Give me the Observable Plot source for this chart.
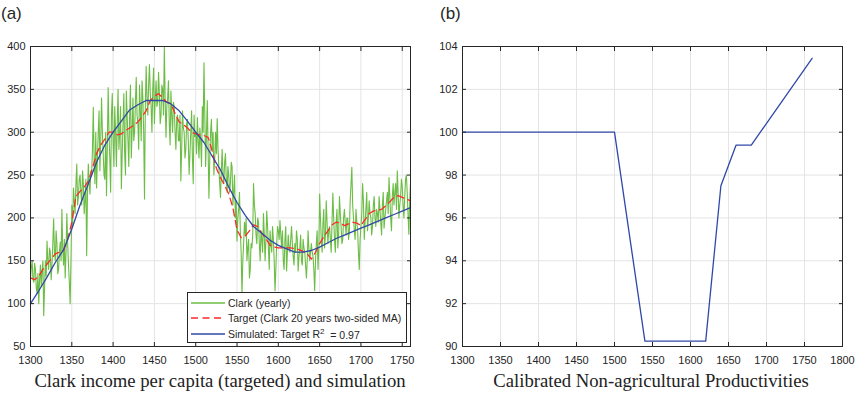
<!DOCTYPE html>
<html><head><meta charset="utf-8">
<script src="https://cdn.jsdelivr.net/npm/d3@7"></script>
<script src="https://cdn.jsdelivr.net/npm/@observablehq/plot@0.6"></script>
<style>
body{margin:0;background:#fff;}
#wrap{position:relative;width:855px;height:396px;overflow:hidden;font-family:"Liberation Sans",Arial,sans-serif;}
.panel{position:absolute;top:0;}
.lab{position:absolute;top:4px;font-size:17px;color:#262626;font-family:"Liberation Sans",Arial,sans-serif;}
.cap{position:absolute;top:370px;font-family:"Liberation Serif","Times New Roman",serif;font-size:18.7px;color:#222;white-space:nowrap;transform:translateX(-50%);}
</style></head><body><div id="wrap"></div>
<script>
// ---------- Data ----------
// Clark yearly income per capita, 1300..1760 (one value per year)
const clarkStartYear = 1300;
const clarkValues = [
  130,142,150,128,125,147,140,118,112,135,
  100,128,145,120,138,150,86,118,150,132,
  173,150,140,165,160,128,145,170,199,160,
  150,185,170,135,140,160,172,150,210,165,
  145,175,130,160,205,170,145,125,100,150,
  215,190,235,220,205,240,263,215,225,245,
  250,230,215,255,240,205,220,245,156,230,
  263,240,228,255,250,280,329,270,240,300,
  235,270,300,325,255,290,340,300,275,250,
  245,300,226,285,352,300,270,230,320,345,
  290,260,330,300,260,310,350,280,300,330,
  234,275,310,345,275,250,348,320,290,260,
  320,355,270,300,340,290,300,335,364,320,
  310,280,355,325,290,360,340,300,222,330,
  377,340,320,355,379,345,330,300,350,375,
  310,340,360,330,335,370,345,310,320,355,
  350,320,399,340,294,330,340,360,310,285,
  348,320,300,335,330,300,280,315,320,290,
  290,320,243,280,325,305,300,270,280,310,
  315,290,251,275,300,325,270,240,320,295,
  300,275,317,290,270,305,290,260,330,300,
  381,320,260,295,337,280,223,270,300,315,
  280,300,250,270,300,275,316,280,260,240,
  224,255,280,250,240,265,275,245,230,260,
  250,230,240,265,260,215,231,250,200,220,
  173,200,210,230,185,160,111,150,170,195,
  180,200,150,165,175,130,140,170,165,180,
  240,215,205,180,170,200,195,170,150,185,
  175,160,205,180,150,175,208,190,165,140,
  185,170,160,190,175,150,115,140,170,190,
  185,175,197,180,165,185,150,140,175,190,
  138,160,180,165,160,175,190,170,155,145,
  170,160,185,175,138,155,165,180,150,145,
  175,165,160,145,130,150,185,165,150,160,
  170,160,155,140,115,150,170,185,140,165,
  228,200,175,160,193,210,165,180,220,195,
  170,185,190,175,160,195,229,200,175,160,
  195,210,165,180,225,205,190,170,175,200,
  210,195,180,200,200,175,185,220,240,259,
  215,200,185,175,210,195,185,160,140,175,
  190,205,240,220,175,195,210,230,185,200,
  220,205,200,180,190,215,225,200,190,210,
  205,195,225,210,195,180,215,230,188,200,
  210,220,230,205,247,225,200,185,225,240,
  215,230,240,210,255,230,200,215,225,245,
  237,215,200,225,245,250,230,205,181,220,
  241
];
// Target: Clark 20 years two-sided MA (every 5 years)
const targetYears = [1300,1305,1310,1315,1320,1325,1330,1335,1340,1345,1350,1355,1360,1365,1370,1375,1380,1385,1390,1395,1400,1405,1410,1415,1420,1425,1430,1435,1440,1445,1450,1455,1460,1465,1470,1475,1480,1485,1490,1495,1500,1505,1510,1515,1520,1525,1530,1535,1540,1545,1550,1555,1560,1565,1570,1575,1580,1585,1590,1595,1600,1605,1610,1615,1620,1625,1630,1635,1640,1645,1650,1655,1660,1665,1670,1675,1680,1685,1690,1695,1700,1705,1710,1715,1720,1725,1730,1735,1740,1745,1750,1755,1760];
const targetValues = [130,128,132,140,146,152,158,160,162,175,195,225,231,236,243,258,275,285,292,300,300,297,298,302,305,308,312,318,325,337,342,345,340,335,333,322,312,309,305,300,298,297,296,294,278,258,247,238,228,212,186,177,179,185,192,190,182,176,168,166,165,165,165,165,164,163,161,158,152,160,170,178,185,192,195,194,191,193,195,194,191,198,205,208,209,210,214,219,224,226,224,222,220];
// Simulated (every 10 years)
const simYears = [1300,1310,1320,1330,1340,1350,1360,1370,1380,1390,1400,1410,1420,1430,1440,1450,1460,1470,1480,1490,1500,1510,1520,1530,1540,1550,1560,1570,1580,1590,1600,1610,1620,1630,1640,1650,1660,1670,1680,1690,1700,1710,1720,1730,1740,1750,1760];
const simValues = [100,115,131,148,163,187,215,240,265,285,300,313,326,332,337,337,337,333,325,313,300,288,272,256,236,218,203,190,182,174,168,164,160,160,162,166,171,176,180,184,188,192,196,200,204,208,212];
// Calibrated non-agricultural productivities
const prodYears = [1300,1500,1540,1620,1640,1660,1680,1760];
const prodValues = [100,100,90.25,90.25,97.5,99.4,99.4,103.45];

// Tick labels
const xTicksA = [1300,1350,1400,1450,1500,1550,1600,1650,1700,1750];
const yTicksA = [50,100,150,200,250,300,350,400];
const xTicksB = [1300,1350,1400,1450,1500,1550,1600,1650,1700,1750,1800];
const yTicksB = [90,92,94,96,98,100,102,104];

const legendLabels = ["Clark (yearly)", "Target (Clark 20 years two-sided MA)", "Simulated: Target R"];
const captionA = "Clark income per capita (targeted) and simulation";
const captionB = "Calibrated Non-agricultural Productivities";

// ---------- Build tables ----------
const clark = clarkValues.map((v, i) => ({year: clarkStartYear + i, v}));
const target = targetYears.map((y, i) => ({year: y, v: targetValues[i]}));
const sim = simYears.map((y, i) => ({year: y, v: simValues[i]}));
const prod = prodYears.map((y, i) => ({year: y, v: prodValues[i]}));

const GREEN = "#6cbd45", RED = "#ff2a2a", BLUE = "#2f48a8", FRAME = "#262626", GRID = "#e4e4e4";
const DASH = "7,4.5";

function panel({width, marginLeft, marginRight, xDomain, yDomain, xTicks, yTicks, lines}) {
  return Plot.plot({
    width, height: 366, marginLeft, marginRight, marginTop: 46, marginBottom: 20,
    style: {fontFamily: "'Liberation Sans', Arial, sans-serif", fontSize: "11px", color: FRAME, background: "transparent", overflow: "visible"},
    x: {domain: xDomain, label: null},
    y: {domain: yDomain, label: null},
    marks: [
      Plot.gridX(xTicks, {stroke: GRID, strokeOpacity: 1}),
      Plot.gridY(yTicks, {stroke: GRID, strokeOpacity: 1}),
      ...lines,
      Plot.axisX(xTicks, {anchor: "bottom", tickSize: -4, tickPadding: 14, tickFormat: d => String(d), label: null, stroke: FRAME}),
      Plot.axisX(xTicks, {anchor: "top", tickSize: -4, tickFormat: () => "", label: null, stroke: FRAME}),
      Plot.axisY(yTicks, {anchor: "left", tickSize: -4, tickPadding: 9, tickFormat: d => String(d), label: null, stroke: FRAME}),
      Plot.axisY(yTicks, {anchor: "right", tickSize: -4, tickFormat: () => "", label: null, stroke: FRAME}),
      Plot.frame({stroke: FRAME, strokeWidth: 1})
    ]
  });
}

const wrap = document.getElementById("wrap");

const plotA = panel({
  width: 425, marginLeft: 30, marginRight: 15,
  xDomain: [1300, 1760], yDomain: [50, 400], xTicks: xTicksA, yTicks: yTicksA,
  lines: [
    Plot.line(clark, {x: "year", y: "v", stroke: GREEN, strokeWidth: 1.1}),
    Plot.line(target, {x: "year", y: "v", stroke: RED, strokeWidth: 1.3, strokeDasharray: DASH}),
    Plot.line(sim, {x: "year", y: "v", stroke: BLUE, strokeWidth: 1.3})
  ]
});
plotA.classList.add("panel");
plotA.style.left = "0px";
wrap.appendChild(plotA);

const plotB = panel({
  width: 424, marginLeft: 31, marginRight: 13,
  xDomain: [1300, 1800], yDomain: [90, 104], xTicks: xTicksB, yTicks: yTicksB,
  lines: [
    Plot.line(prod, {x: "year", y: "v", stroke: BLUE, strokeWidth: 1.3})
  ]
});
plotB.classList.add("panel");
plotB.style.left = "431px";
wrap.appendChild(plotB);

// Legend (panel a)
const leg = d3.select(wrap).append("svg")
  .attr("width", 220).attr("height", 51)
  .style("position", "absolute").style("left", "187px").style("top", "292px")
  .style("font-family", "'Liberation Sans', Arial, sans-serif").style("font-size", "10.5px");
leg.append("rect").attr("x", 0.5).attr("y", 0.5).attr("width", 219).attr("height", 50)
  .attr("fill", "#fff").attr("stroke", FRAME);
const legStyles = [
  {stroke: GREEN, dash: null},
  {stroke: RED, dash: DASH},
  {stroke: BLUE, dash: null}
];
const rowY = [11, 26, 42];
legStyles.forEach((s, i) => {
  leg.append("line").attr("x1", 4).attr("x2", 38).attr("y1", rowY[i]).attr("y2", rowY[i])
    .attr("stroke", s.stroke).attr("stroke-width", 1.3).attr("stroke-dasharray", s.dash);
  const t = leg.append("text").attr("x", 41).attr("y", rowY[i]).attr("dy", "0.35em").attr("fill", FRAME).text(legendLabels[i]);
  if (i === 2) {
    t.append("tspan").attr("dy", "-0.45em").attr("font-size", "8px").text("2");
    t.append("tspan").attr("dy", "0.45em").text("\u00a0 = 0.97");
  }
});

// Panel labels & captions
function addDiv(cls, text, left) {
  const d = document.createElement("div");
  d.className = cls; d.textContent = text; d.style.left = left + "px";
  wrap.appendChild(d);
}
addDiv("lab", "(a)", 1);
addDiv("lab", "(b)", 440);
addDiv("cap", captionA, 220);
addDiv("cap", captionB, 651);
</script></body></html>
